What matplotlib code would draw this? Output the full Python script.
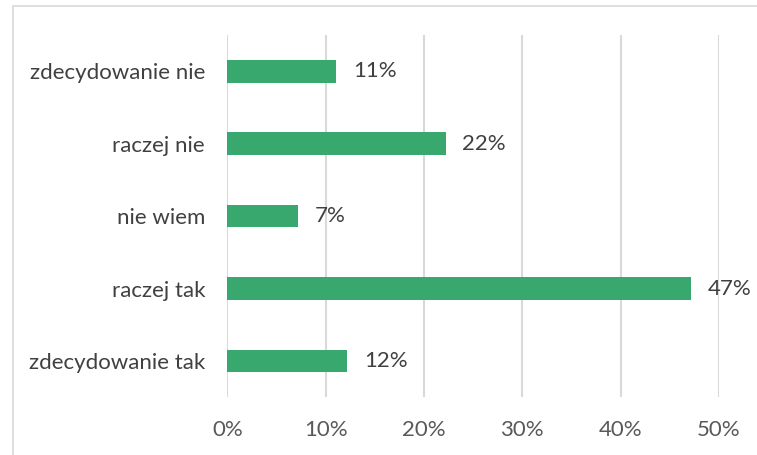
import matplotlib
matplotlib.use("Agg")
import matplotlib.pyplot as plt
from matplotlib.patches import Rectangle

categories = ["zdecydowanie tak", "raczej tak", "nie wiem", "raczej nie", "zdecydowanie nie"]
values = [0.122, 0.472, 0.072, 0.222, 0.111]
ticks = [0, 0.1, 0.2, 0.3, 0.4, 0.5]
tick_labels = ["0%", "10%", "20%", "30%", "40%", "50%"]

plt.rcParams["font.family"] = ["Lato", "DejaVu Sans"]

W, H = 757, 455
fig = plt.figure(figsize=(W / 100, H / 100), dpi=100)
# axes placed in pixel coords of the reference
left, right, top, bottom = 227.3, 719, 35, 397.3
ax = fig.add_axes([left / W, 1 - bottom / H, (right - left) / W, (bottom - top) / H])

# light chart frame
fig.patches.append(Rectangle((12.5 / W, -0.1), 1.2, 1 - 6 / H + 0.1, transform=fig.transFigure,
                             fill=False, edgecolor="#d9d9d9", linewidth=1.2))

y = range(len(categories))
ax.barh(y, values, height=0.313, color="#38a86f", zorder=3)
for yi, v in zip(y, values):
    ax.text(v + 0.017, yi, "{:.0f}%".format(v * 100), va="center", ha="left",
            fontsize=16, color="#404040")

ax.set_xlim(0, 0.5)
ax.set_ylim(-0.5, len(categories) - 0.5)
ax.set_xticks(ticks)
ax.set_xticklabels(tick_labels)
ax.set_yticks(list(y))
ax.set_yticklabels(categories)
ax.tick_params(axis="x", length=0, pad=16, labelsize=16, labelcolor="#595959")
ax.tick_params(axis="y", length=0, pad=16, labelsize=16, labelcolor="#404040")
ax.grid(axis="x", color="#d9d9d9", linewidth=1.5, zorder=0)
for s in ax.spines.values():
    s.set_visible(False)

fig.savefig("out.png", dpi=100)
